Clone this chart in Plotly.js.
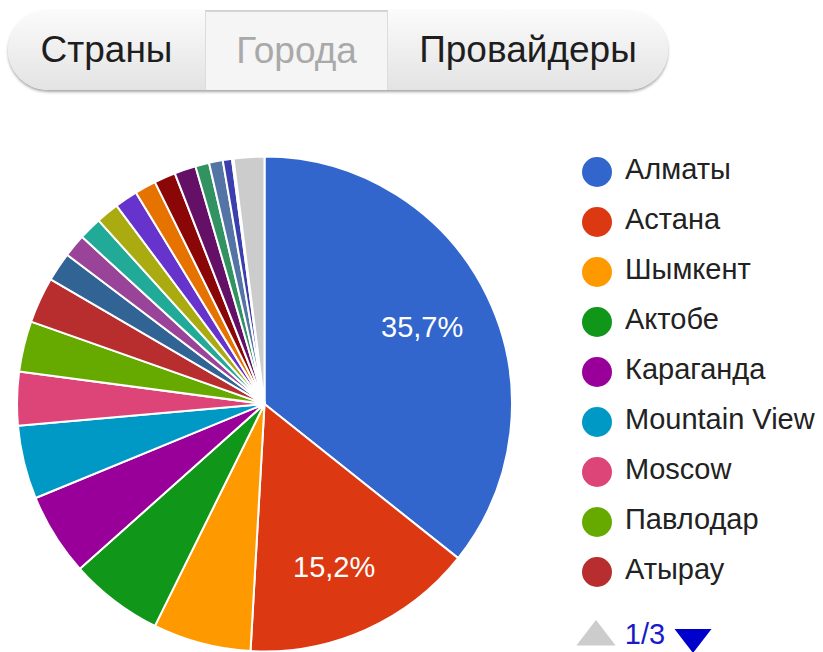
<!DOCTYPE html>
<html>
<head>
<meta charset="utf-8">
<script src="https://cdn.plot.ly/plotly-3.0.1.min.js"></script>
<style>
  html,body{margin:0;padding:0;background:#fff;}
  body{width:823px;height:652px;overflow:hidden;position:relative;font-family:Arial,"Liberation Sans",sans-serif;}
  #chart{position:absolute;left:0;top:0;width:823px;height:652px;}
  #tabs{position:absolute;left:8px;top:10px;width:660px;height:80px;border-radius:40px;overflow:hidden;display:flex;
        box-shadow:0 2px 3px rgba(0,0,0,.35);z-index:5;background:linear-gradient(#fbfbfb,#e3e3e3);}
  .tab{display:flex;align-items:center;justify-content:center;font-size:37px;color:#1e1e1e;height:100%;box-sizing:border-box;}
  .tab.sel{background:#f5f5f5;color:#a9a9a9;border-top:2px solid #d4d4d4;border-left:1px solid #dcdcdc;border-right:1px solid #dcdcdc;}
</style>
</head>
<body>
<div id="tabs"></div>
<div id="chart"></div>
<script>
// ---- data ----
const tabLabels = ["Страны", "Города", "Провайдеры"];
const selectedTab = 1;
const cities = ["Алматы", "Астана", "Шымкент", "Актобе", "Караганда", "Mountain View", "Moscow", "Павлодар", "Атырау",
                "Город 10", "Город 11", "Город 12", "Город 13", "Город 14", "Город 15", "Город 16", "Город 17",
                "Город 18", "Город 19", "Город 20", "Город 21", "Другие"];
const shares = [35.7, 15.2, 6.4, 6.1, 5.4, 4.8, 3.5, 3.3, 3.0,
                1.9, 1.5, 1.5, 1.5, 1.5, 1.4, 1.4, 1.4,
                0.9, 0.9, 0.6, 0.1, 2.0];
const colors = ["#3366cc", "#dc3912", "#ff9900", "#109618", "#990099", "#0099c6", "#dd4477", "#66aa00", "#b82e2e",
                "#316395", "#994499", "#22aa99", "#aaaa11", "#6633cc", "#e67300", "#8b0707", "#651067",
                "#329262", "#5574a6", "#3b3eac", "#b77322", "#cccccc"];
const labelledSlices = 2;     // slices that show their percentage
const legendPageSize = 9;
const legendPage = "1/3";

// ---- tabs ----
const tabWidths = [197, 183, 280];
const tabsEl = document.getElementById('tabs');
tabLabels.forEach((t, i) => {
  const d = document.createElement('div');
  d.className = 'tab' + (i === selectedTab ? ' sel' : '');
  d.style.width = tabWidths[i] + 'px';
  d.textContent = t;
  tabsEl.appendChild(d);
});

// ---- chart ----
const W = 823, H = 652;
const FONT = 'Arial, "Liberation Sans", sans-serif';
const pieL = 17, pieR = 512, pieT = 156.5, pieB = 651.5;
const cx = (pieL + pieR) / 2, cy = (pieT + pieB) / 2, R = (pieR - pieL) / 2;
const rowH = 50, row0 = 172;              // legend rows (pixels)
const toY = p => (p - row0) / rowH;       // pixel -> y-axis units

const total = shares.reduce((a, b) => a + b, 0);

const pie = {
  type: 'pie',
  labels: cities,
  values: shares,
  textinfo: 'none',
  sort: false,
  direction: 'clockwise',
  rotation: 0,
  marker: {colors: colors, line: {color: '#ffffff', width: 2}},
  domain: {x: [pieL / W, pieR / W], y: [1 - pieB / H, 1 - pieT / H]},
  showlegend: false,
  hoverinfo: 'label+percent'
};

// percentage labels for the largest slices, placed at the middle angle of each slice
const annotations = [];
let cum = 0;
shares.forEach((v, i) => {
  const frac = v / total;
  const mid = (cum + frac / 2) * 2 * Math.PI;
  cum += frac;
  if (i < labelledSlices) {
    const r = 0.72 * R;
    annotations.push({
      xref: 'x', yref: 'y',
      x: cx + r * Math.sin(mid) - 3, y: toY(cy - r * Math.cos(mid)),
      text: (frac * 100).toFixed(1).replace('.', ',') + '%',
      showarrow: false, xanchor: 'center', yanchor: 'middle',
      font: {size: 29, color: '#ffffff', family: FONT}
    });
  }
});

const legNames = cities.slice(0, legendPageSize);
const legIdx = legNames.map((_, i) => i);
const legMarkers = {
  type: 'scatter', mode: 'markers', xaxis: 'x', yaxis: 'y',
  x: legIdx.map(() => 597), y: legIdx,
  marker: {size: 30, color: colors.slice(0, legendPageSize), symbol: 'circle'},
  showlegend: false, hoverinfo: 'skip'
};
const legText = {
  type: 'scatter', mode: 'text', xaxis: 'x', yaxis: 'y',
  x: legIdx.map(() => 625), y: legIdx,
  text: legNames, textposition: 'middle right',
  textfont: {size: 29, color: '#222222', family: FONT},
  showlegend: false, hoverinfo: 'skip'
};
const pagerY = toY(637);
const pagerUp = {
  type: 'scatter', mode: 'markers', xaxis: 'x', yaxis: 'y',
  x: [596], y: [pagerY],
  marker: {size: 34, symbol: 'triangle-up', color: '#cccccc', opacity: 1, line: {width: 0}},
  showlegend: false, hoverinfo: 'skip'
};
const pagerDown = {
  type: 'scatter', mode: 'markers', xaxis: 'x', yaxis: 'y',
  x: [693], y: [pagerY],
  marker: {size: 32, symbol: 'triangle-down', color: '#0000cc', opacity: 1, line: {width: 0}},
  showlegend: false, hoverinfo: 'skip'
};
const pagerText = {
  type: 'scatter', mode: 'text', xaxis: 'x', yaxis: 'y',
  x: [645], y: [pagerY], text: [legendPage], textposition: 'middle center',
  textfont: {size: 29, color: '#1a1acc', family: FONT},
  showlegend: false, hoverinfo: 'skip'
};

const layout = {
  width: W, height: H,
  margin: {l: 0, r: 0, t: 0, b: 0},
  paper_bgcolor: '#ffffff', plot_bgcolor: 'rgba(0,0,0,0)',
  separators: ', ',
  showlegend: false,
  font: {family: FONT},
  xaxis: {visible: false, range: [0, W], domain: [0, 1], fixedrange: true},
  yaxis: {visible: false, range: [toY(H), toY(0)], domain: [0, 1], fixedrange: true},
  annotations: annotations
};

Plotly.newPlot('chart', [pie, legMarkers, legText, pagerUp, pagerDown, pagerText], layout, {displayModeBar: false, staticPlot: true});
</script>
</body>
</html>
